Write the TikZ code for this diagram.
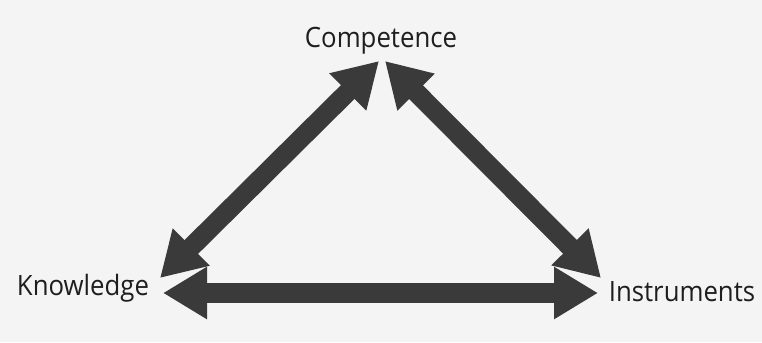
\documentclass[tikz,border=0pt]{standalone}
\usepackage{fontspec}
\setmainfont{Open Sans}
\usetikzlibrary{arrows.meta}
\definecolor{bg}{HTML}{F4F4F4}
\definecolor{arr}{HTML}{3A3A3A}
\definecolor{txt}{HTML}{1E1E1E}
\tikzset{
  lbl/.style={font=\fontsize{21}{24}\selectfont, text=txt, inner sep=0pt, anchor=base, xscale=0.92},
  dbl/.style={draw=arr, line width=14.5pt,
    {Triangle[length=33pt,width=37pt]}-{Triangle[length=33pt,width=37pt]}}
}
\begin{document}
\begin{tikzpicture}[x=0.75pt,y=-0.75pt]
\fill[bg] (0,0) rectangle (762,342);
\useasboundingbox (0,0) rectangle (762,342);
\node[lbl] (comp) at (381,48) {Competence};
\node[lbl] (know) at (83,295) {Knowledge};
\node[lbl] (inst) at (682,301) {Instruments};
\coordinate (kl) at (163,293);
\coordinate (ir) at (598,293);
\coordinate (ct1) at (379,61);
\coordinate (kt) at (160,278);
\coordinate (ct2) at (385,61);
\coordinate (it) at (601,278);
\draw[dbl] (kl) -- (ir);
\draw[dbl] (kt) -- (ct1);
\draw[dbl] (ct2) -- (it);
\end{tikzpicture}
\end{document}
